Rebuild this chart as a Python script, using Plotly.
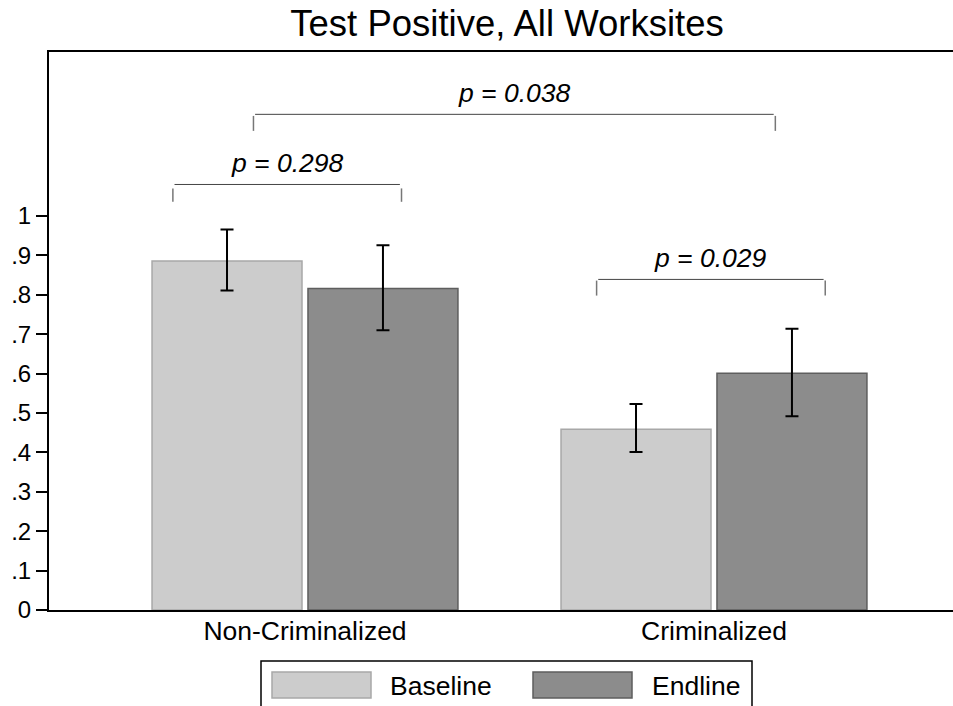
import plotly.graph_objects as go

# ---------------- data ----------------
categories = ["Non-Criminalized", "Criminalized"]
series_names = ["Baseline", "Endline"]
baseline_mean = [0.886, 0.459]
baseline_upper = [0.966, 0.523]
baseline_lower = [0.811, 0.401]
endline_mean = [0.816, 0.601]
endline_upper = [0.926, 0.714]
endline_lower = [0.710, 0.492]
y_tick_values = [0, 0.1, 0.2, 0.3, 0.4, 0.5, 0.6, 0.7, 0.8, 0.9, 1.0]
y_tick_labels = ["0", ".1", ".2", ".3", ".4", ".5", ".6", ".7", ".8", ".9", "1"]
p_labels = ["p = 0.298", "p = 0.038", "p = 0.029"]

# ---------------- style ----------------
FONT = "Liberation Sans, Arial, Helvetica, sans-serif"
W, H = 953, 706
L, R, T, B = 49, 0, 52, 96
fill = {"Baseline": "#cccccc", "Endline": "#8c8c8c"}
edge = {"Baseline": "#a8a8a8", "Endline": "#5e5e5e"}
bar_w = 0.3667
offsets = {"Baseline": -0.374, "Endline": 0.0073}

xpos = list(range(len(categories)))
fig = go.Figure()
for name, mean, up, lo in [("Baseline", baseline_mean, baseline_upper, baseline_lower),
                           ("Endline", endline_mean, endline_upper, endline_lower)]:
    fig.add_trace(go.Bar(
        x=xpos, y=mean, name=name, width=bar_w, offset=offsets[name],
        marker=dict(color=fill[name], line=dict(color=edge[name], width=1.5)),
        error_y=dict(type="data", symmetric=False,
                     array=[u - m for u, m in zip(up, mean)],
                     arrayminus=[m - l for m, l in zip(mean, lo)],
                     color="black", thickness=2, width=6.5),
        showlegend=False,
    ))

# significance brackets: (left x, right x, line y, tick top, tick bottom)
brackets = [
    (xpos[0] - 0.323, xpos[0] + 0.236, 1.080, 1.070, 1.036),
    (xpos[0] - 0.126, xpos[1] + 0.150, 1.258, 1.254, 1.216),
    (xpos[1] - 0.287, xpos[1] + 0.272, 0.839, 0.836, 0.798),
]
for (x0, x1, yl, yt, yb), lab in zip(brackets, p_labels):
    fig.add_shape(type="line", x0=x0 + 0.004, x1=x1 - 0.004, y0=yl, y1=yl,
                  line=dict(color="#444444", width=1))
    for xx in (x0, x1):
        fig.add_shape(type="line", x0=xx, x1=xx, y0=yt, y1=yb,
                      line=dict(color="#777777", width=1.5))
    fig.add_annotation(x=(x0 + x1) / 2, y=yl, text=f"<i>{lab}</i>", showarrow=False,
                       yanchor="bottom", yshift=4,
                       font=dict(family=FONT, size=26.5, color="black"))

# manual legend (large swatches like the original)
PW, PH = W - L - R, H - T - B
def paper_x(p):
    return (p - L) / PW
def paper_y(p):
    return (PH - (p - T)) / PH

fig.add_shape(type="rect", xref="paper", yref="paper",
              x0=paper_x(261), x1=paper_x(752), y0=paper_y(740), y1=paper_y(661),
              line=dict(color="black", width=1.5), fillcolor="white")
legend_items = [(series_names[0], 272, 371, 388), (series_names[1], 533, 632, 650)]
for name, sx0, sx1, tx in legend_items:
    fig.add_shape(type="rect", xref="paper", yref="paper",
                  x0=paper_x(sx0), x1=paper_x(sx1), y0=paper_y(698), y1=paper_y(672),
                  line=dict(color=edge[name], width=1.5), fillcolor=fill[name])
    fig.add_annotation(xref="paper", yref="paper", x=paper_x(tx), y=paper_y(686),
                       text=name, showarrow=False, xanchor="left", yanchor="middle",
                       font=dict(family=FONT, size=26.5, color="black"))

fig.update_layout(
    width=W, height=H,
    margin=dict(l=L, r=R, t=T, b=B, pad=0),
    paper_bgcolor="white", plot_bgcolor="white",
    barmode="overlay",
    font=dict(family=FONT, color="black"),
    title=dict(text="Test Positive, All Worksites", x=507 / W, xanchor="center",
               y=1 - 23 / H, yanchor="middle", xref="container", yref="container",
               font=dict(family=FONT, size=36.5, color="black")),
    xaxis=dict(range=[-0.6259, 1.5844], tickvals=xpos, ticktext=categories,
               showgrid=False, zeroline=False, showline=True, linecolor="black",
               linewidth=2, mirror=True, ticks="", ticklabelstandoff=-4,
               tickfont=dict(size=26.5)),
    yaxis=dict(range=[0, 1.4162], tickvals=y_tick_values, ticktext=y_tick_labels,
               showgrid=False, zeroline=False, showline=True, linecolor="black",
               linewidth=2, ticks="outside", ticklen=11, tickwidth=1.5,
               tickcolor="black", tickfont=dict(size=24)),
)

fig.write_html("out.html")
